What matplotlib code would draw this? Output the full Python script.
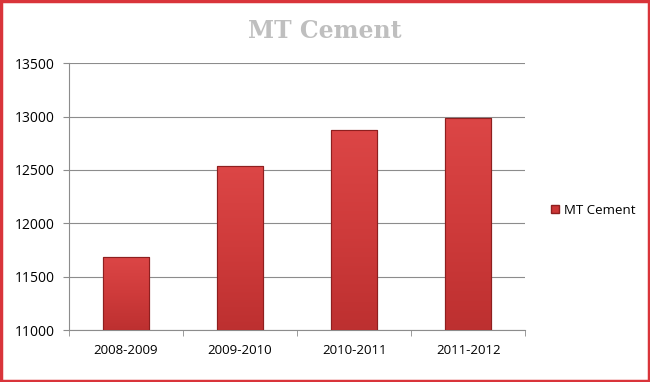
import numpy as np
import matplotlib
matplotlib.use('Agg')
import matplotlib.pyplot as plt
from matplotlib.patches import Rectangle
from matplotlib.colors import LinearSegmentedColormap

years = ['2008-2009', '2009-2010', '2010-2011', '2011-2012']
cement = [11685, 12540, 12870, 12990]
series_name = 'MT Cement'
y_ticks = [11000, 11500, 12000, 12500, 13000, 13500]

C_BORDER = '#d9343a'
C_BAR = '#cc3636'
C_EDGE = '#8e1f1f'
C_GRID = '#8c8c8c'

fig = plt.figure(figsize=(6.5, 3.82), dpi=100)
fig.patches.append(Rectangle((0.002, 0.003), 0.996, 0.994, transform=fig.transFigure,
                             fill=False, edgecolor=C_BORDER, linewidth=2.5))

ax = fig.add_axes([0.106, 0.135, 0.702, 0.700])
x = np.arange(len(years))
w = 0.4
bars = ax.bar(x, [v - y_ticks[0] for v in cement], bottom=y_ticks[0], width=w,
              color=C_BAR, edgecolor=C_EDGE, linewidth=0.8, zorder=3,
              label=series_name)

# vertical gradient on each bar for the bevelled look (light top, darker bottom)
cmap = LinearSegmentedColormap.from_list('bar', ['#dc4646', '#cf3b3b', '#bd3030'])
grad = np.linspace(0, 1, 256).reshape(-1, 1)
for b in bars:
    bx, by = b.get_x(), b.get_y()
    bw, bh = b.get_width(), b.get_height()
    im = ax.imshow(grad, cmap=cmap, aspect='auto', zorder=3.5, origin='upper',
                   extent=(bx, bx + bw, by, by + bh))
    im.set_clip_path(b)
    ax.add_patch(Rectangle((bx, by), bw, bh, fill=False, edgecolor=C_EDGE,
                           linewidth=0.8, zorder=4))

ax.set_xlim(-0.5, len(years) - 0.5)
ax.set_ylim(y_ticks[0], y_ticks[-1])
ax.set_yticks(y_ticks)
ax.set_yticklabels([str(t) for t in y_ticks], fontsize=10, family='Open Sans')
ax.set_xticks(x)
ax.set_xticklabels(years, fontsize=9.5, family='Open Sans')
ax.set_xticks(np.arange(-0.5, len(years), 1), minor=True)
ax.tick_params(axis='x', which='major', length=0, pad=10)
ax.tick_params(axis='x', which='minor', length=4, color=C_GRID, direction='out')
ax.tick_params(axis='y', length=4, color=C_GRID, pad=6)

ax.grid(axis='y', color=C_GRID, linewidth=0.8, zorder=0)
ax.set_axisbelow(True)
for s in ['top', 'right']:
    ax.spines[s].set_visible(False)
for s in ['left', 'bottom']:
    ax.spines[s].set_color(C_GRID)
    ax.spines[s].set_linewidth(0.8)

fig.text(0.5, 0.92, 'MT Cement', ha='center', va='center', fontsize=17,
         fontweight='bold', color='#bfbfbf', family='DejaVu Serif')

leg = ax.legend(handles=[Rectangle((0, 0), 1, 1, facecolor=C_BAR, edgecolor=C_EDGE)],
                labels=[series_name], loc='center left', bbox_to_anchor=(1.03, 0.45),
                frameon=False, handlelength=0.6, handleheight=0.6, handletextpad=0.4,
                prop={'family': 'Open Sans', 'size': 9.5})

fig.savefig('out.png', dpi=100)
